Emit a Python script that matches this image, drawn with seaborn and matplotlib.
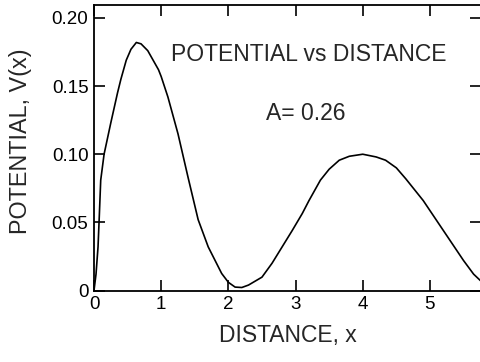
import numpy as np
import pandas as pd
import matplotlib
matplotlib.use("Agg")
import matplotlib.pyplot as plt
import seaborn as sns

# valores
distance = [0.0, 0.03, 0.06, 0.08, 0.10, 0.15, 0.25, 0.35, 0.40, 0.48, 0.55, 0.63, 0.70,
            0.80, 0.96, 1.00, 1.10, 1.25, 1.40, 1.55, 1.70, 1.90, 2.00, 2.10, 2.20,
            2.30, 2.50, 2.65, 2.80, 2.95, 3.10, 3.20, 3.37, 3.50, 3.65, 3.80, 4.00, 4.20,
            4.34, 4.50, 4.64, 4.77, 4.90, 5.05, 5.20, 5.35, 5.50, 5.65, 5.80]
potential = [0.0, 0.012, 0.032, 0.056, 0.081, 0.100, 0.123, 0.145, 0.155, 0.169, 0.177, 0.182,
             0.181, 0.176, 0.162, 0.157, 0.142, 0.115, 0.083, 0.052, 0.032, 0.0125,
             0.006, 0.0025, 0.0022, 0.004, 0.0098, 0.020, 0.032, 0.044, 0.0565, 0.066, 0.081,
             0.089, 0.0956, 0.0985, 0.100, 0.098, 0.0956, 0.090, 0.082, 0.074, 0.066, 0.055,
             0.044, 0.033, 0.022, 0.012, 0.005]
x_ticks = [0, 1, 2, 3, 4, 5]
y_ticks = [0, 0.05, 0.10, 0.15, 0.20]
y_tick_labels = ["0", "0.05", "0.10", "0.15", "0.20"]

df = pd.DataFrame({"x": distance, "V": potential})

sns.set_style("ticks")
plt.rcParams["font.family"] = ["Liberation Sans", "DejaVu Sans"]

fig = plt.figure(figsize=(4.8, 3.62), dpi=100)
ax = fig.add_axes([94 / 480, 1 - 290.5 / 362, (481 - 94) / 480, (290.5 - 5) / 362])

sns.lineplot(data=df, x="x", y="V", color="black", linewidth=1.2, ax=ax, sort=False)

ax.set_xlim(0, 5.76)
ax.set_ylim(0, 0.2095)
ax.set_xticks(x_ticks)
ax.set_xticklabels([str(t) for t in x_ticks])
ax.set_yticks(y_ticks)
ax.set_yticklabels(y_tick_labels)

for s in ax.spines.values():
    s.set_linewidth(1.3)
    s.set_color("black")

ax.tick_params(axis="both", direction="in", length=8, width=1.2, colors="black",
               labelsize=13.5, top=True, right=True, pad=4)

ax.set_xlabel("DISTANCE, x", fontsize=16.5, labelpad=8)
ax.set_ylabel("POTENTIAL, V(x)", fontsize=16.8)
ax.yaxis.set_label_coords(-0.16, 0.524)

ax.text(3.2, 0.173, "POTENTIAL vs DISTANCE", fontsize=16.5, ha="center", va="center")
ax.text(3.15, 0.130, "A= 0.26", fontsize=16.5, ha="center", va="center")

fig.savefig("out.png", dpi=100)
